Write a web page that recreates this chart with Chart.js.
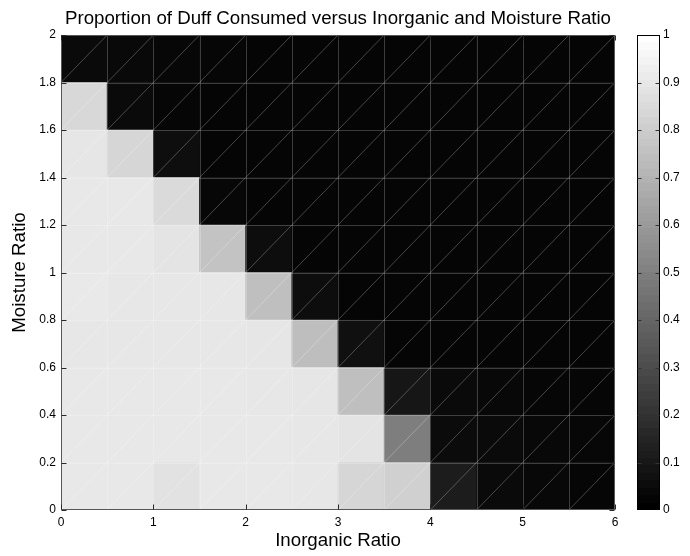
<!DOCTYPE html>
<html><head><meta charset="utf-8">
<script src="https://cdn.jsdelivr.net/npm/chart.js@4/dist/chart.umd.min.js"></script>
<style>
html,body{margin:0;padding:0;background:#fff;}
#wrap{position:relative;width:690px;height:556px;overflow:hidden;}
#main{position:absolute;left:0;top:0;}
#cbar{position:absolute;left:630px;top:0;}
</style></head><body>
<div id="wrap">
<canvas id="main" width="690" height="556"></canvas>
<canvas id="cbar" width="60" height="556"></canvas>
</div>
<script>
const titleText = 'Proportion of Duff Consumed versus Inorganic and Moisture Ratio';
const xTitle = 'Inorganic Ratio';
const yTitle = 'Moisture Ratio';

// bin edges of the mesh
const inorganicEdges = [0, 0.5, 1, 1.5, 2, 2.5, 3, 3.5, 4, 4.5, 5, 5.5, 6];
const moistureEdges = [0, 0.2, 0.4, 0.6, 0.8, 1, 1.2, 1.4, 1.6, 1.8, 2];

// tick labels
const xTickValues = [0, 1, 2, 3, 4, 5, 6];
const yTickValues = [0, 0.2, 0.4, 0.6, 0.8, 1, 1.2, 1.4, 1.6, 1.8, 2];
const colorbarTicks = [0, 0.1, 0.2, 0.3, 0.4, 0.5, 0.6, 0.7, 0.8, 0.9, 1];

// proportion of duff consumed; one array per moisture band, columns = inorganic bins 0-0.5 ... 5.5-6
const moisture_0_0to0_2 = [0.91, 0.91, 0.885, 0.91, 0.91, 0.905, 0.84, 0.815, 0.11, 0.04, 0.03, 0.025];
const moisture_0_2to0_4 = [0.91, 0.91, 0.91, 0.91, 0.91, 0.905, 0.895, 0.495, 0.045, 0.04, 0.03, 0.028];
const moisture_0_4to0_6 = [0.91, 0.91, 0.91, 0.91, 0.905, 0.9, 0.75, 0.085, 0.038, 0.03, 0.025, 0.025];
const moisture_0_6to0_8 = [0.905, 0.905, 0.905, 0.905, 0.9, 0.745, 0.062, 0.02, 0.02, 0.02, 0.02, 0.02];
const moisture_0_8to1_0 = [0.915, 0.905, 0.905, 0.905, 0.748, 0.05, 0.018, 0.018, 0.018, 0.018, 0.018, 0.018];
const moisture_1_0to1_2 = [0.91, 0.91, 0.895, 0.765, 0.052, 0.018, 0.018, 0.018, 0.018, 0.018, 0.018, 0.018];
const moisture_1_2to1_4 = [0.91, 0.91, 0.855, 0.028, 0.018, 0.018, 0.018, 0.018, 0.018, 0.018, 0.018, 0.018];
const moisture_1_4to1_6 = [0.9, 0.838, 0.055, 0.02, 0.018, 0.018, 0.018, 0.018, 0.018, 0.018, 0.018, 0.018];
const moisture_1_6to1_8 = [0.848, 0.04, 0.024, 0.02, 0.018, 0.018, 0.018, 0.018, 0.018, 0.018, 0.018, 0.018];
const moisture_1_8to2_0 = [0.04, 0.035, 0.028, 0.022, 0.02, 0.02, 0.02, 0.02, 0.02, 0.02, 0.02, 0.02];

const moistureRows = [moisture_0_0to0_2, moisture_0_2to0_4, moisture_0_4to0_6, moisture_0_6to0_8,
  moisture_0_8to1_0, moisture_1_0to1_2, moisture_1_2to1_4, moisture_1_4to1_6, moisture_1_6to1_8, moisture_1_8to2_0];

const FONT = '"Liberation Sans", Arial, Helvetica, sans-serif';
const TICK_SIZE = 12;
Chart.defaults.font.family = FONT;
Chart.defaults.color = '#000';

function gray(v) {
  const g = Math.max(0, Math.min(255, Math.round(v * 255)));
  return 'rgb(' + g + ',' + g + ',' + g + ')';
}
const fmt = v => String(+(+v).toFixed(2));

const datasets = moistureRows.map((row, r) => ({
  label: 'moisture ' + moistureEdges[r] + '-' + moistureEdges[r + 1],
  data: row.map((v, i) => ({
    x: (inorganicEdges[i] + inorganicEdges[i + 1]) / 2,
    y: [moistureEdges[r], moistureEdges[r + 1]]
  })),
  backgroundColor: row.map(gray),
  borderWidth: 0
}));

const meshPlugin = {
  id: 'mesh',
  afterDatasetsDraw(chart) {
    const {ctx, chartArea: a, scales: {x, y}} = chart;
    ctx.save();
    ctx.beginPath();
    ctx.rect(a.left, a.top, a.right - a.left, a.bottom - a.top);
    ctx.clip();
    ctx.lineWidth = 1;
    // cell edges
    ctx.strokeStyle = 'rgba(255,255,255,0.22)';
    ctx.beginPath();
    inorganicEdges.slice(1, -1).forEach(v => {
      const px = Math.round(x.getPixelForValue(v)) + 0.5;
      ctx.moveTo(px, a.top); ctx.lineTo(px, a.bottom);
    });
    moistureEdges.slice(1, -1).forEach(v => {
      const py = Math.round(y.getPixelForValue(v)) + 0.5;
      ctx.moveTo(a.left, py); ctx.lineTo(a.right, py);
    });
    ctx.stroke();
    // triangle diagonals
    ctx.strokeStyle = 'rgba(255,255,255,0.26)';
    ctx.beginPath();
    for (let i = 0; i < inorganicEdges.length - 1; i++) {
      for (let j = 0; j < moistureEdges.length - 1; j++) {
        ctx.moveTo(x.getPixelForValue(inorganicEdges[i]), y.getPixelForValue(moistureEdges[j]));
        ctx.lineTo(x.getPixelForValue(inorganicEdges[i + 1]), y.getPixelForValue(moistureEdges[j + 1]));
      }
    }
    ctx.stroke();
    ctx.restore();
    // axes box
    ctx.save();
    ctx.strokeStyle = '#575757';
    ctx.lineWidth = 1;
    const L = Math.round(a.left) + 0.5, R = Math.round(a.right) - 0.5;
    const T = Math.round(a.top) + 0.5, B = Math.round(a.bottom) - 0.5;
    ctx.strokeRect(L, T, R - L, B - T);
    // inward ticks
    ctx.strokeStyle = '#2a2a2a';
    ctx.beginPath();
    xTickValues.forEach(v => {
      const px = Math.round(x.getPixelForValue(v)) + 0.5;
      ctx.moveTo(px, B); ctx.lineTo(px, B - 5);
      ctx.moveTo(px, T); ctx.lineTo(px, T + 5);
    });
    yTickValues.forEach(v => {
      const py = Math.round(y.getPixelForValue(v)) + 0.5;
      ctx.moveTo(L, py); ctx.lineTo(L + 5, py);
      ctx.moveTo(R, py); ctx.lineTo(R - 5, py);
    });
    ctx.stroke();
    ctx.restore();
  }
};

new Chart(document.getElementById('main'), {
  type: 'bar',
  data: {datasets},
  options: {
    responsive: false, animation: false, devicePixelRatio: 1,
    layout: {padding: {left: 0, right: 75, top: 0, bottom: 0}},
    datasets: {bar: {grouped: false, categoryPercentage: 1, barPercentage: 1}},
    plugins: {
      legend: {display: false}, tooltip: {enabled: false},
      title: {display: true, text: titleText, color: '#000', fullSize: false,
        font: {family: FONT, size: 18.7, weight: 'normal', lineHeight: 1.2},
        padding: {top: 7.2, bottom: 5.4}}
    },
    scales: {
      x: {
        type: 'linear', min: 0, max: 6, offset: false,
        afterBuildTicks: s => { s.ticks = xTickValues.map(v => ({value: v})); },
        afterFit: s => { s.height = 46; },
        grid: {display: false, drawTicks: false, offset: false}, border: {display: false},
        ticks: {padding: 5, color: '#000', font: {family: FONT, size: TICK_SIZE}, maxRotation: 0, autoSkip: false, callback: fmt},
        title: {display: true, text: xTitle, color: '#000', font: {family: FONT, size: 18.7, lineHeight: 1.2}, padding: {top: 0, bottom: 4}}
      },
      y: {
        type: 'linear', min: 0, max: 2, offset: false,
        afterBuildTicks: s => { s.ticks = yTickValues.map(v => ({value: v})); },
        afterFit: s => { s.width = 61; },
        grid: {display: false, drawTicks: false}, border: {display: false},
        ticks: {padding: 5, color: '#000', font: {family: FONT, size: TICK_SIZE}, autoSkip: false, callback: fmt},
        title: {display: true, text: yTitle, color: '#000', font: {family: FONT, size: 18.7, lineHeight: 1.2}, padding: {top: 9, bottom: 0}}
      }
    }
  },
  plugins: [meshPlugin]
});

// colorbar
const cbarPlugin = {
  id: 'cbarFrame',
  afterDatasetsDraw(chart) {
    const {ctx, chartArea: a, scales: {y}} = chart;
    ctx.save();
    ctx.strokeStyle = '#000';
    ctx.lineWidth = 1;
    const L = Math.round(a.left) + 0.5, R = Math.round(a.right) - 0.5;
    const T = Math.round(a.top) + 0.5, B = Math.round(a.bottom) - 0.5;
    ctx.strokeRect(L, T, R - L, B - T);
    ctx.strokeStyle = '#333';
    ctx.beginPath();
    colorbarTicks.slice(1, -1).forEach(v => {
      const py = Math.round(y.getPixelForValue(v)) + 0.5;
      ctx.moveTo(L, py); ctx.lineTo(L + 4, py);
      ctx.moveTo(R, py); ctx.lineTo(R - 4, py);
    });
    ctx.stroke();
    ctx.restore();
  }
};

function cbarFill(context) {
  const chart = context.chart;
  const a = chart.chartArea;
  if (!a) return '#888';
  const y = chart.scales.y;
  const y0 = y.getPixelForValue(0), y1 = y.getPixelForValue(1);
  const g = chart.ctx.createLinearGradient(0, y0, 0, y1);
  const n = 64;
  for (let k = 0; k < n; k++) {
    const c = gray(k / (n - 1));
    g.addColorStop(k / n, c);
    g.addColorStop((k + 1) / n, c);
  }
  return g;
}

new Chart(document.getElementById('cbar'), {
  type: 'bar',
  data: {labels: ['scale'], datasets: [{data: [[colorbarTicks[0], colorbarTicks[colorbarTicks.length - 1]]],
    backgroundColor: cbarFill, borderWidth: 0, categoryPercentage: 1, barPercentage: 1}]},
  options: {
    responsive: false, animation: false, devicePixelRatio: 1,
    layout: {padding: {left: 7, right: 0, top: 35, bottom: 46}},
    plugins: {legend: {display: false}, tooltip: {enabled: false}, title: {display: false}},
    scales: {
      x: {display: false},
      y: {
        position: 'right', min: 0, max: 1,
        afterBuildTicks: s => { s.ticks = colorbarTicks.map(v => ({value: v})); },
        afterFit: s => { s.width = 30; },
        grid: {display: false, drawTicks: false}, border: {display: false},
        ticks: {padding: 3, color: '#000', font: {family: FONT, size: TICK_SIZE}, autoSkip: false, callback: fmt}
      }
    }
  },
  plugins: [cbarPlugin]
});
</script>
</body></html>
